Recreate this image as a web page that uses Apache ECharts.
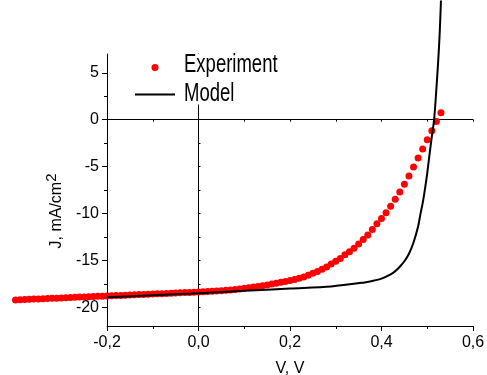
<!DOCTYPE html>
<html><head><meta charset="utf-8">
<script src="https://cdn.jsdelivr.net/npm/echarts@6/dist/echarts.min.js"></script>
<style>html,body{margin:0;padding:0;background:#fff}#c{width:487px;height:375px}</style>
</head><body><div id="c"></div>
<script>
// Experiment: voltage (V) and current density (mA/cm2)
const expV = [-0.40,-0.39,-0.38,-0.37,-0.36,-0.35,-0.34,-0.33,-0.32,-0.31,
  -0.30,-0.29,-0.28,-0.27,-0.26,-0.25,-0.24,-0.23,-0.22,-0.21,
  -0.20,-0.19,-0.18,-0.17,-0.16,-0.15,-0.14,-0.13,-0.12,-0.11,
  -0.10,-0.09,-0.08,-0.07,-0.06,-0.05,-0.04,-0.03,-0.02,-0.01,
  0.00,0.01,0.02,0.03,0.04,0.05,0.06,0.07,0.08,0.09,
  0.10,0.11,0.12,0.13,0.14,0.15,0.16,0.17,0.18,0.19,
  0.20,0.21,0.22,0.23,0.24,0.25,0.26,0.27,0.28,0.29,
  0.30,0.31,0.32,0.33,0.34,0.35,0.36,0.37,0.38,0.39,
  0.40,0.41,0.42,0.43,0.44,0.45,0.46,0.47,0.48,0.49,
  0.50,0.51,0.52,0.53];
const expJ = [-19.22,-19.20,-19.18,-19.16,-19.13,-19.11,-19.09,-19.07,-19.05,-19.03,
  -19.01,-18.99,-18.97,-18.94,-18.92,-18.90,-18.88,-18.86,-18.84,-18.82,
  -18.80,-18.78,-18.76,-18.74,-18.71,-18.69,-18.67,-18.65,-18.63,-18.61,
  -18.59,-18.57,-18.55,-18.53,-18.51,-18.49,-18.46,-18.44,-18.42,-18.40,
  -18.38,-18.35,-18.32,-18.30,-18.27,-18.24,-18.20,-18.16,-18.10,-18.05,
  -17.98,-17.92,-17.85,-17.78,-17.70,-17.62,-17.52,-17.43,-17.34,-17.25,
  -17.15,-17.05,-16.92,-16.78,-16.60,-16.38,-16.20,-15.96,-15.70,-15.40,
  -15.10,-14.80,-14.40,-14.08,-13.70,-13.27,-12.77,-12.30,-11.70,-11.10,
  -10.53,-9.93,-9.22,-8.48,-7.70,-6.88,-6.00,-5.04,-4.08,-3.13,
  -2.13,-1.17,-0.21,0.74];
// Model curve
const modelV = [-0.2,-0.1,0.0,0.1,0.2,0.29,0.36,0.38,0.40,0.42,0.43,0.44,0.45,0.46,0.47,0.48,0.485,0.49,0.495,0.50,0.505,0.51,0.515,0.52,0.524,0.527,0.53];
const modelJ = [-18.94,-18.72,-18.5,-18.25,-18.0,-17.78,-17.38,-17.2,-16.95,-16.5,-16.15,-15.68,-15.1,-14.3,-13.1,-11.4,-10.1,-8.9,-7.4,-5.7,-3.7,-1.8,0,3.3,6.3,9.0,12.7];

const seriesNames = ['Experiment', 'Model'];
const yTicks = [-20,-15,-10,-5,0,5];
const yMinorTicks = [-17.5,-12.5,-7.5,-2.5,2.5];
const zeroLineYTicks = [-20,-17.5,-15,-12.5,-10,-7.5,-5,-2.5,0,2.5,5];

const FONT = "'Liberation Sans', Arial, sans-serif";
const gridBox = {left:107, right:14, top:54, bottom:49, containLabel:false, outerBoundsMode:'none'};

const chart = echarts.init(document.getElementById('c'), null, {renderer:'canvas'});
chart.setOption({
  animation:false,
  backgroundColor:'#fff',
  grid:[Object.assign({}, gridBox), Object.assign({}, gridBox)],
  legend:{
    orient:'vertical', left:130, top:54, padding:[10,112,9,5],
    itemWidth:40, itemHeight:7, itemGap:20, backgroundColor:'#fff',
    selectedMode:false, formatter:() => '',
    textStyle:{fontFamily:FONT, fontSize:1, color:'#000'},
    data:[{name:seriesNames[0], icon:'circle'},
          {name:seriesNames[1], icon:'path://M0,0 L40,0 L40,2 L0,2 Z'}]
  },
  graphic:[
    {type:'text', x:184, y:65.5, scaleX:0.74, z:20,
     style:{text:seriesNames[0], font:"25px 'Liberation Sans', Arial, sans-serif", fill:'#000', align:'left', verticalAlign:'middle'}},
    {type:'text', x:184, y:93.9, scaleX:0.74, z:20,
     style:{text:seriesNames[1], font:"25px 'Liberation Sans', Arial, sans-serif", fill:'#000', align:'left', verticalAlign:'middle'}}
  ],
  xAxis:[
    {type:'value', gridIndex:0, position:'bottom', min:-0.2, max:0.6, interval:0.2,
     axisLine:{onZero:false, lineStyle:{color:'#000', width:1}},
     axisTick:{length:5, lineStyle:{color:'#000'}},
     minorTick:{show:true, splitNumber:2, length:3, lineStyle:{color:'#000'}},
     splitLine:{show:false}, minorSplitLine:{show:false},
     axisLabel:{margin:9, fontSize:16, fontFamily:FONT, color:'#000',
       formatter:v => v.toFixed(1).replace('.', ',')},
     name:'V, V', nameLocation:'middle', nameGap:35,
     nameTextStyle:{fontSize:16, fontFamily:FONT, color:'#000'}},
    {type:'value', gridIndex:0, position:'top', min:-0.2, max:0.6, interval:0.1,
     axisLine:{onZero:true, onZeroAxisIndex:0, lineStyle:{color:'#000', width:1}},
     axisTick:{inside:true, length:2, lineStyle:{color:'#000'}},
     axisLabel:{show:false}, splitLine:{show:false}},
    {type:'value', gridIndex:1, min:-0.2, max:0.6, show:false}
  ],
  yAxis:[
    {type:'value', gridIndex:0, position:'left', min:-22, max:7,
     axisLine:{onZero:false, lineStyle:{color:'#000', width:1}},
     axisTick:{length:5, customValues:yTicks, lineStyle:{color:'#000'}},
     axisLabel:{margin:8, fontSize:16, fontFamily:FONT, color:'#000', customValues:yTicks,
       formatter:v => String(v)},
     splitLine:{show:false},
     name:'{a|J, mA/cm}{sup|2}', nameLocation:'middle', nameGap:34,
     nameTextStyle:{fontSize:16, fontFamily:FONT, color:'#000', padding:[0,42,0,0],
       rich:{
         a:{fontSize:16, fontFamily:FONT, color:'#000', lineHeight:16, verticalAlign:'bottom'},
         sup:{fontSize:15, fontFamily:FONT, color:'#000', lineHeight:16, verticalAlign:'bottom', padding:[0,0,6,0]}
       }}},
    {type:'value', gridIndex:0, position:'right', min:-22, max:7,
     axisLine:{onZero:true, onZeroAxisIndex:0, lineStyle:{color:'#000', width:1}},
     axisTick:{length:2, customValues:zeroLineYTicks, lineStyle:{color:'#000'}},
     axisLabel:{show:false}, splitLine:{show:false}},
    {type:'value', gridIndex:1, position:'left', min:-22, max:7,
     axisLine:{show:false, onZero:false},
     axisTick:{length:3, customValues:yMinorTicks, lineStyle:{color:'#000'}},
     axisLabel:{show:false}, splitLine:{show:false}}
  ],
  series:[
    {type:'scatter', name:seriesNames[0], xAxisIndex:0, yAxisIndex:0,
     data:expV.map((v,i)=>[v, expJ[i]]), symbol:'circle', symbolSize:7,
     itemStyle:{color:'#ff0000', opacity:1}, clip:false, z:2, silent:true},
    {type:'line', name:seriesNames[1], xAxisIndex:0, yAxisIndex:0,
     data:modelV.map((v,i)=>[v, modelJ[i]]), symbol:'none', smooth:0.3,
     lineStyle:{color:'#000', width:2}, itemStyle:{color:'#000'}, clip:false, z:3, silent:true}
  ]
});
</script>
</body></html>
